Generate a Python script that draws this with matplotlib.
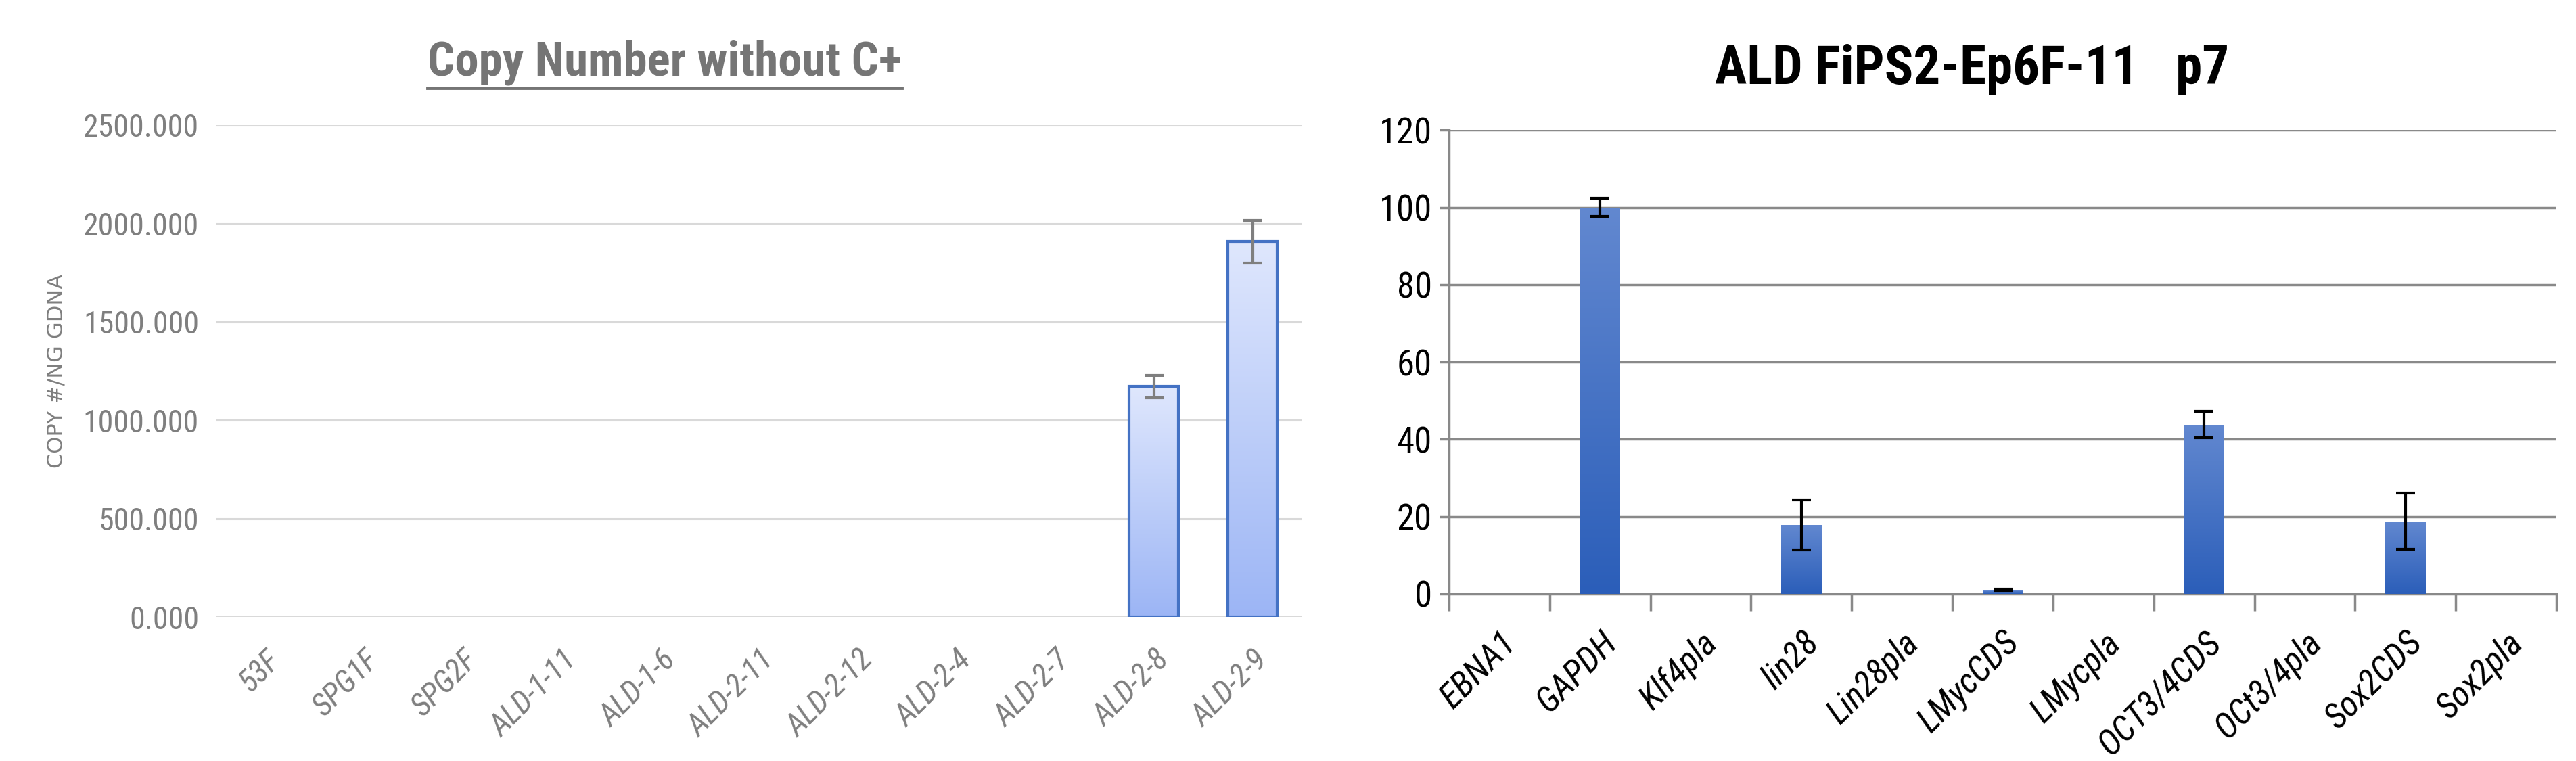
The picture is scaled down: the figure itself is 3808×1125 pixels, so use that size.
import matplotlib
matplotlib.use("Agg")
import matplotlib.pyplot as plt
import numpy as np
from matplotlib import font_manager
from matplotlib.lines import Line2D

# left panel: copy number per clone
copy_labels = ["53F", "SPG1F", "SPG2F", "ALD-1-11", "ALD-1-6", "ALD-2-11",
               "ALD-2-12", "ALD-2-4", "ALD-2-7", "ALD-2-8", "ALD-2-9"]
copy_values = [0, 0, 0, 0, 0, 0, 0, 0, 0, 1171, 1907]
copy_err = [0, 0, 0, 0, 0, 0, 0, 0, 0, 56, 107]
copy_yticks = [0, 500, 1000, 1500, 2000, 2500]

# right panel: relative expression
gene_labels = ["EBNA1", "GAPDH", "Klf4pla", "lin28", "Lin28pla", "LMycCDS",
               "LMycpla", "OCT3/4CDS", "OCt3/4pla", "Sox2CDS", "Sox2pla"]
gene_values = [0, 100, 0, 17.9, 0, 1.0, 0, 43.8, 0, 18.8, 0]
gene_err = [0, 2.4, 0, 6.5, 0, 0.2, 0, 3.4, 0, 7.3, 0]
gene_yticks = [0, 20, 40, 60, 80, 100, 120]


def pick_narrow():
    """Calibri-ish look: a narrow family that has both regular and bold faces."""
    faces = {}
    for f in font_manager.fontManager.ttflist:
        if "Narrow" in f.name or "Condensed" in f.name:
            w = f.weight if isinstance(f.weight, int) else 400
            faces.setdefault(f.name, set()).add(w)
    good = [n for n, ws in faces.items()
            if any(w >= 600 for w in ws) and any(350 <= w <= 500 for w in ws)
            and not any(k in n for k in ("Light", "Thin", "Medium", "Black", "Extra", "Semi"))]
    for pref in ("Liberation Sans Narrow", "Roboto Condensed", "Open Sans Condensed",
                 "Noto Sans Condensed", "DejaVu Sans Condensed"):
        if pref in good:
            return pref
    return sorted(good)[0] if good else "DejaVu Sans"


FONT = dict(family=[pick_narrow(), "DejaVu Sans"], stretch="condensed")


def gradient_bars(ax, bars, top_color, bottom_color):
    grad = np.linspace(0, 1, 256).reshape(-1, 1)
    cmap = matplotlib.colors.LinearSegmentedColormap.from_list("g", [bottom_color, top_color])
    for b in bars:
        h = b.get_height()
        if h <= 0:
            b.set_visible(False)
            continue
        x0, w = b.get_x(), b.get_width()
        im = ax.imshow(grad, cmap=cmap, extent=(x0, x0 + w, 0, h), origin="lower",
                       aspect="auto", zorder=b.get_zorder() - 0.1)
        im.set_clip_path(b)


fig = plt.figure(figsize=(38.08, 11.25), dpi=100)

# ---- left
ax1 = fig.add_axes([0.0838, 0.1893, 0.4217, 0.6463])
x = np.arange(len(copy_labels))
bars = ax1.bar(x, copy_values, width=0.5, facecolor="none", edgecolor="#4472c4",
               linewidth=3, zorder=3)
gradient_bars(ax1, bars, "#dfe7fd", "#9cb5f5")
nz = [i for i, v in enumerate(copy_values) if v > 0]
ax1.errorbar(x[nz], [copy_values[i] for i in nz], yerr=[copy_err[i] for i in nz], fmt="none",
             ecolor="#7f7f7f", elinewidth=3, capsize=10, capthick=3, zorder=4)
ax1.set_xlim(-0.5, len(copy_labels) - 0.5)
ax1.set_ylim(0, 2500)
ax1.set_yticks(copy_yticks)
ax1.set_yticklabels([f"{v:.3f}" for v in copy_yticks], fontsize=33, color="#7f7f7f", **FONT)
ax1.set_xticks(x)
ax1.set_xticklabels(copy_labels, fontsize=33, color="#7f7f7f", style="italic",
                    rotation=45, ha="right", rotation_mode="anchor", **FONT)
ax1.tick_params(length=0, pad=18)
ax1.tick_params(axis="x", pad=30)
for s in ax1.spines.values():
    s.set_visible(False)
ax1.yaxis.grid(True, color="#d9d9d9", linewidth=2.2)
ax1.set_axisbelow(True)
fig.text(0.022, 0.5125, "COPY #/NG GDNA", rotation=90, ha="center", va="center",
         fontsize=23, color="#7f7f7f", family="DejaVu Sans")

t1 = fig.text(0.258, 0.918, "Copy Number without C+", ha="center", va="center",
              fontsize=51, fontweight="bold", color="#757575", **FONT)

# ---- right
ax2 = fig.add_axes([0.5625, 0.2196, 0.4299, 0.6093])
x2 = np.arange(len(gene_labels))
bars2 = ax2.bar(x2, gene_values, width=0.4, facecolor="none", edgecolor="none", zorder=3)
gradient_bars(ax2, bars2, "#6288d0", "#2b5eb9")
nz2 = [i for i, v in enumerate(gene_values) if v > 0]
ax2.errorbar(x2[nz2], [gene_values[i] for i in nz2], yerr=[gene_err[i] for i in nz2],
             fmt="none", ecolor="black", elinewidth=3, capsize=10, capthick=3, zorder=4)
ax2.set_xlim(-0.5, len(gene_labels) - 0.5)
ax2.set_ylim(0, 120)
ax2.set_yticks(gene_yticks)
ax2.set_yticklabels([str(v) for v in gene_yticks], fontsize=38, color="black", **FONT)
ax2.set_xticks(x2)
ax2.set_xticklabels(gene_labels, fontsize=37, style="italic",
                    rotation=45, ha="right", rotation_mode="anchor", **FONT)
ax2.set_xticks(np.arange(-0.5, len(gene_labels)), minor=True)
ax2.tick_params(axis="x", which="major", length=0, pad=34)
ax2.tick_params(axis="x", which="minor", length=18, width=2.5, color="#898989")
ax2.tick_params(axis="y", length=10, width=2.5, color="#898989", pad=8)
for side in ("top", "right"):
    ax2.spines[side].set_visible(False)
for side in ("left", "bottom"):
    ax2.spines[side].set_color("#898989")
    ax2.spines[side].set_linewidth(2.5)
ax2.yaxis.grid(True, color="#898989", linewidth=2.5)
ax2.set_axisbelow(True)

fig.text(0.7655, 0.909, "ALD FiPS2-Ep6F-11   p7", ha="center", va="center",
         fontsize=57, fontweight="bold", color="black", **FONT)

# underline for left title
fig.canvas.draw()
bb = t1.get_window_extent(fig.canvas.get_renderer())
W, H = fig.bbox.width, fig.bbox.height
uy = (bb.y0 - 4) / H
fig.add_artist(Line2D([bb.x0 / W, bb.x1 / W], [uy, uy], color="#757575", linewidth=3.5,
                      transform=fig.transFigure))

fig.savefig("out.png", dpi=100, facecolor="white")
